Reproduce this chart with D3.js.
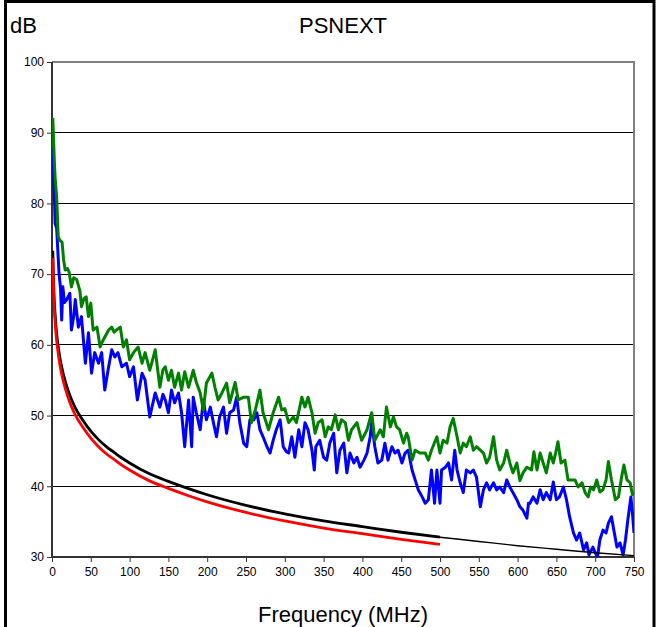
<!DOCTYPE html>
<html><head><meta charset="utf-8">
<script src="https://cdn.jsdelivr.net/npm/d3@7"></script>
<style>html,body{margin:0;padding:0;background:#fff;}svg{display:block;}</style>
</head><body>
<svg id="chart" width="657" height="627"></svg>
<script>
const xTicks = [0,50,100,150,200,250,300,350,400,450,500,550,600,650,700,750];
const yTicks = [30,40,50,60,70,80,90,100];

// Limit line (black), 1-500 MHz thick and 500-750 MHz thin
const limitFreq = [1,2,3,4,5,6,8,10,12,15,20,25,30,40,50,60,70,80,90,100,125,150,175,200,250,300,350,400,450,500];
const limitDb   = [73.3,68.8,66.1,64.3,62.8,61.6,59.8,58.3,57.1,55.7,53.8,52.3,51.1,49.3,47.8,46.6,45.6,44.8,44.0,43.3,41.8,40.7,39.7,38.8,37.3,36.1,35.1,34.3,33.5,32.8];
const limitExtFreq = [500,550,600,650,700,750];
const limitExtDb   = [32.8,32.2,31.6,31.1,30.6,30.2];

// Red limit line
const redFreq = [1,2,3,4,5,6,8,10,12,15,20,25,30,40,50,60,70,80,90,100,125,150,175,200,250,300,350,400,450,500];
const redDb   = [72.3,67.8,65.1,63.3,61.8,60.6,58.8,57.3,56.1,54.7,52.8,51.3,50.1,48.3,46.8,45.6,44.6,43.8,43.0,42.3,40.8,39.7,38.7,37.8,36.3,35.1,34.1,33.3,32.5,31.8];

// Green measured
const greenFreq = [1,3,4,6,8,10,13,15,17,20,22,25,28,32,36,38,41,44,47,50,53,58,62,66,70,73,77,80,83,88,92,96,100,105,111,116,120,126,133,139,143,146,150,154,158,163,167,171,176,182,186,191,195,199,206,210,214,219,225,229,236,240,247,253,257,262,268,272,279,285,292,296,300,305,311,315,322,326,330,335,339,343,348,352,356,360,365,369,373,378,382,386,393,399,406,412,416,423,427,431,436,440,444,448,453,457,459,464,468,474,481,485,489,496,500,504,509,513,517,522,526,530,534,539,543,547,552,556,560,564,569,573,577,582,586,590,594,599,603,607,612,618,621,625,629,633,637,642,646,649,652,656,661,665,670,674,678,683,687,691,694,698,702,706,710,714,717,721,726,730,734,737,741,745,748,750];
const greenDb   = [92.1,86,83.7,80.9,75.3,74.8,74.5,72,70.6,70.8,70.3,68.2,69.5,69.2,67.6,65.4,66.5,66.8,64.0,65.9,62.1,62.5,59.7,60.7,61.5,62.1,62.5,61.8,62.1,62.5,59.7,60.7,57.9,58.9,59.7,57.4,58.9,56.4,59.3,54.0,56.5,56.9,55.0,56.4,54.0,56.0,53.6,56.2,54.0,56.4,54.7,53.2,50.8,54.6,56.0,54.0,52.2,53.2,54.6,51.8,54.7,52.2,52.6,52.6,49.0,50.8,53.6,50.4,48.0,50.4,52.6,50.8,51.0,49.0,49.8,49.0,52.6,51.2,52.6,50.4,47.5,49.0,49.4,47.0,48.4,48.0,50.1,48.0,49.4,49.0,46.5,48.0,49.0,46.5,48.0,50.4,46.5,48.0,47.0,51.2,48.4,49.8,48.4,48.0,46.1,47.5,47.0,43.7,45.1,44.7,44.7,43.7,45.1,47.0,44.7,46.5,46.1,48.4,49.6,47.0,44.7,46.1,45.6,47.0,45.1,45.6,45.1,44.7,43.3,44.1,47.0,43.7,42.3,43.3,45.1,43.3,41.9,43.3,40.8,41.9,42.7,42.3,44.9,42.3,44.7,43.3,41.9,44.7,43.3,44.7,46.3,43.3,43.7,40.9,40.9,40.9,39.9,40.5,39.1,38.5,39.9,39.5,40.9,39.2,39.5,40.9,43.5,40.9,38.1,38.5,41.3,43.0,40.9,40.5,38.8,39.2];

// Blue measured
const blueFreq = [1,3,4,6,9,11,12.5,14,16,19,23,25,28,30,34,38,43,47,51,55,60,64,68,73,77,81,85,90,96,100,105,110,116,120,126,133,139,143,146,150,154,158,163,167,171,176,180,182,186,191,195,199,204,208,212,216,221,225,229,234,238,242,247,251,255,260,264,268,272,277,281,285,289,294,298,302,305,309,313,318,322,326,330,335,338,340,345,350,354,358,363,367,371,376,380,384,389,393,397,402,406,410,412,416,420,425,429,433,438,442,446,451,455,459,464,468,472,477,481,485,489,493,496,500,502,507,511,515,519,522,526,530,534,539,543,547,552,556,560,564,569,573,577,582,586,590,594,599,603,607,612,614,616,620,625,629,633,637,642,646,650,654,659,663,667,672,676,680,685,689,692,697,700,703,706,710,714,717,721,724,728,732,736,739,742,746,748,750];
const blueDb   = [88.0,81.5,77.2,76.5,70.2,68,63.5,68.2,66,66.4,67.3,62.1,64,66.4,62.5,64.0,57.4,61.7,56.0,58.9,57.4,58.9,53.6,56.9,59.3,58.3,58.9,56.9,57.4,55.5,56.9,52.2,56.0,55.0,49.8,53.2,51.2,53.0,52.2,50.4,53.6,51.8,53.2,50.4,45.6,52.2,45.6,52.6,50.4,48.0,52.2,49.4,51.2,49.0,47.0,49.8,51.2,47.5,50.4,50.8,52.6,49.0,46.1,45.6,49.4,49.4,50.4,48.0,47.0,45.6,44.7,46.5,48.0,49.4,45.6,44.9,44.7,47.0,44.1,48.0,45.6,49.0,48.0,45.1,42.3,45.6,46.5,44.1,43.7,46.1,47.5,41.9,45.1,46.1,41.9,44.7,43.3,44.1,42.7,43.7,44.7,47.0,49.0,45.6,43.3,43.7,46.1,43.7,45.6,44.7,45.1,43.3,44.7,45.1,42.3,40.9,39.5,38.5,37.6,38.1,42.3,37.6,42.3,37.6,42.3,42.7,43.3,40.9,45.1,42.3,40.5,39.1,42.3,41.9,42.3,41.3,37.1,39.5,40.5,39.5,40.5,39.5,39.9,39.1,40.9,39.9,39.1,38.1,37.1,36.6,35.5,37.6,37.6,38.5,37.6,39.5,38.1,39.1,38.1,40.6,38.1,38.5,39.9,38.1,35.7,33.4,32.4,33.4,31.0,32.0,30.3,31.4,30.6,30.0,32.4,33.8,33.4,34.8,35.7,33.8,31.4,32.0,30.3,32.4,35.2,38.5,36.2,33.4];

const svg = d3.select("#chart");
const font = "'Liberation Sans', Arial, sans-serif";
const x = d3.scaleLinear().domain([0,750]).range([52,634]);
const y = d3.scaleLinear().domain([30,100]).range([557,62]);

// outer frame
svg.append("rect").attr("x",5.5).attr("y",1.5).attr("width",648.5).attr("height",660)
  .attr("fill","none").attr("stroke","#000").attr("stroke-width",3);

// gridlines
svg.append("g").selectAll("line").data(yTicks.filter(v => v>30 && v<100)).join("line")
  .attr("x1",x(0)).attr("x2",x(750)).attr("y1",d=>y(d)).attr("y2",d=>y(d))
  .attr("stroke","#000").attr("stroke-width",1).attr("shape-rendering","crispEdges");

// plot top/right border (gray)
svg.append("line").attr("x1",x(0)).attr("x2",x(750)+1).attr("y1",y(100)).attr("y2",y(100))
  .attr("stroke","#808080").attr("stroke-width",2);
svg.append("line").attr("x1",x(750)).attr("x2",x(750)).attr("y1",y(100)).attr("y2",y(30))
  .attr("stroke","#808080").attr("stroke-width",2);

// axes
const yAxis = svg.append("g").attr("transform",`translate(${x(0)},0)`)
  .call(d3.axisLeft(y).tickValues(yTicks).tickSize(5).tickPadding(3));
const xAxis = svg.append("g").attr("transform",`translate(0,${y(30)})`)
  .call(d3.axisBottom(x).tickValues(xTicks).tickSize(5).tickPadding(5));
[yAxis,xAxis].forEach(g => {
  g.select(".domain").remove();
  g.selectAll("line").attr("stroke","#333");
  g.selectAll("text").attr("font-family",font).attr("font-size",12).attr("fill","#000");
});
svg.append("line").attr("x1",x(0)).attr("x2",x(0)).attr("y1",y(100)).attr("y2",y(30)+1)
  .attr("stroke","#333").attr("stroke-width",2);
svg.append("line").attr("x1",x(0)-1).attr("x2",x(750)).attr("y1",y(30)).attr("y2",y(30))
  .attr("stroke","#333").attr("stroke-width",2);

// clip
svg.append("clipPath").attr("id","clip").append("rect")
  .attr("x",x(0)).attr("y",y(100)).attr("width",x(750)-x(0)).attr("height",y(30)-y(100));

const plot = svg.append("g").attr("clip-path","url(#clip)");
function draw(fr, db, color, w, curve) {
  const pts = fr.map((f,i)=>[f,db[i]]);
  plot.append("path").datum(pts)
    .attr("fill","none").attr("stroke",color).attr("stroke-width",w)
    .attr("stroke-linejoin","round")
    .attr("d", d3.line().x(d=>x(d[0])).y(d=>y(d[1])).curve(curve));
}
draw(blueFreq, blueDb, "#0000ff", 3, d3.curveLinear);
draw(greenFreq, greenDb, "#008000", 3, d3.curveLinear);
draw(limitFreq, limitDb, "#000", 2.8, d3.curveMonotoneX);
draw(limitExtFreq, limitExtDb, "#000", 1.4, d3.curveMonotoneX);
draw(redFreq, redDb, "#ff0000", 2.8, d3.curveMonotoneX);

// texts
svg.append("text").attr("x",343).attr("y",33).attr("text-anchor","middle")
  .attr("font-family",font).attr("font-size",22).text("PSNEXT");
svg.append("text").attr("x",10).attr("y",33)
  .attr("font-family",font).attr("font-size",22).text("dB");
svg.append("text").attr("x",343).attr("y",622).attr("text-anchor","middle")
  .attr("font-family",font).attr("font-size",22).text("Frequency (MHz)");
</script>
</body></html>
